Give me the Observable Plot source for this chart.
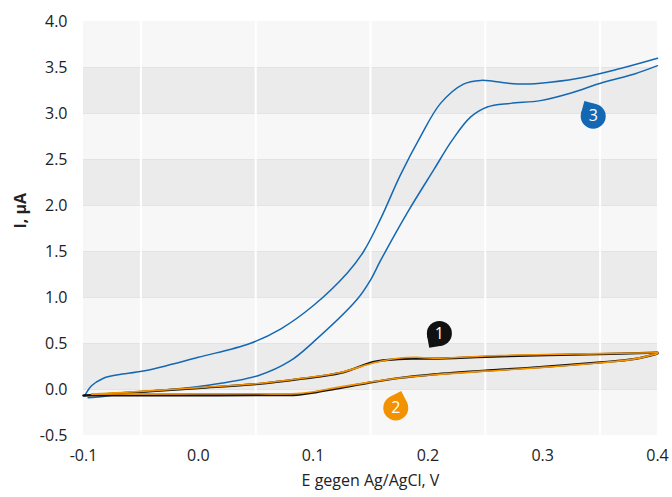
<!DOCTYPE html>
<html><head><meta charset="utf-8">
<script src="https://cdn.jsdelivr.net/npm/d3@7"></script>
<script src="https://cdn.jsdelivr.net/npm/@observablehq/plot@0.6"></script>
<style>body{margin:0;background:#fff;}</style>
</head><body><div id="chart"></div>
<script>
// ---- data ----
const xTicks = [-0.1, 0.0, 0.1, 0.2, 0.3, 0.4];
const xGrid = [-0.05, 0.05, 0.15, 0.25, 0.35];
const yTicks = [-0.5, 0.0, 0.5, 1.0, 1.5, 2.0, 2.5, 3.0, 3.5, 4.0];
const xLabel = "E gegen Ag/AgCl, V";
const yLabel = "I, µA";

const seriesNames = ["1", "2", "3"];
const seriesColors = ["#111111", "#f39200", "#1468b3"];

// curve 1 (black)
const s1UpE = [-0.1, -0.05, 0.0, 0.052, 0.089, 0.124, 0.153, 0.174, 0.19, 0.205, 0.263, 0.35, 0.4];
const s1UpI = [-0.065, -0.025, 0.015, 0.06, 0.115, 0.18, 0.30, 0.33, 0.335, 0.335, 0.36, 0.385, 0.40];
const s1LoE = [-0.1, -0.05, 0.0, 0.05, 0.086, 0.1, 0.12, 0.147, 0.175, 0.205, 0.263, 0.3, 0.35, 0.379, 0.4];
const s1LoI = [-0.065, -0.065, -0.064, -0.062, -0.058, -0.035, 0.01, 0.07, 0.125, 0.165, 0.215, 0.245, 0.295, 0.33, 0.39];

// curve 2 (orange)
const s2UpE = [-0.093, -0.05, 0.0, 0.052, 0.089, 0.124, 0.153, 0.174, 0.19, 0.205, 0.263, 0.35, 0.4];
const s2UpI = [-0.05, -0.02, 0.02, 0.065, 0.12, 0.185, 0.29, 0.34, 0.35, 0.34, 0.37, 0.39, 0.40];
const s2LoE = [-0.093, -0.05, 0.0, 0.05, 0.086, 0.1, 0.12, 0.147, 0.175, 0.205, 0.263, 0.3, 0.35, 0.379, 0.4];
const s2LoI = [-0.05, -0.048, -0.047, -0.046, -0.045, -0.025, 0.02, 0.075, 0.125, 0.16, 0.21, 0.24, 0.29, 0.33, 0.39];

// curve 3 (blue)
const s3UpE = [-0.099, -0.093, -0.083, -0.07, -0.048, 0.0, 0.045, 0.072, 0.1, 0.13, 0.144, 0.159, 0.176, 0.194, 0.211, 0.231, 0.246, 0.257, 0.278, 0.298, 0.33, 0.365, 0.4];
const s3UpI = [-0.07, 0.04, 0.12, 0.16, 0.20, 0.35, 0.50, 0.66, 0.91, 1.27, 1.50, 1.86, 2.33, 2.76, 3.11, 3.32, 3.36, 3.35, 3.32, 3.33, 3.38, 3.48, 3.60];
const s3LoE = [-0.096, -0.085, -0.074, -0.042, 0.005, 0.052, 0.080, 0.1006, 0.1384, 0.15, 0.1587, 0.182, 0.2052, 0.2212, 0.2371, 0.2517, 0.272, 0.298, 0.324, 0.353, 0.38, 0.4];
const s3LoI = [-0.09, -0.08, -0.06, -0.02, 0.04, 0.15, 0.31, 0.52, 0.98, 1.19, 1.40, 1.92, 2.39, 2.71, 2.96, 3.07, 3.11, 3.14, 3.22, 3.34, 3.43, 3.52];

// numbered markers
const markerE = [0.21, 0.172, 0.344];
const markerI = [0.61, -0.20, 2.97];
const markerTail = [215, 18, 330]; // direction of the pointer, degrees clockwise from up

// ---- build tables ----
function branch(series, part, E, I) { return E.map((e, i) => ({series, part, E: e, I: I[i]})); }
const curve1 = [...branch("1", "up", s1UpE, s1UpI), ...branch("1", "lo", s1LoE, s1LoI)];
const curve2 = [...branch("2", "up", s2UpE, s2UpI), ...branch("2", "lo", s2LoE, s2LoI)];
const curve3 = [...branch("3", "up", s3UpE, s3UpI), ...branch("3", "lo", s3LoE, s3LoI)];
const bands = yTicks.slice(0, -1).map((y, i) => ({y1: y, y2: yTicks[i + 1], dark: i % 2 === 1}));
const markers = seriesNames.map((s, i) => ({series: s, E: markerE[i], I: markerI[i], tail: markerTail[i]}));

const R = 12.5;
const markerMarks = markers.flatMap(m => {
  const t = m.tail * Math.PI / 180, off = R / Math.SQRT2;
  return [
    Plot.dot([m], {x: "E", y: "I", r: R, fill: "series"}),
    Plot.dot([m], {x: "E", y: "I", symbol: "square", r: R / Math.sqrt(Math.PI), fill: "series",
      rotate: m.tail - 45, dx: off * Math.sin(t), dy: -off * Math.cos(t)}),
    Plot.text([m], {x: "E", y: "I", text: "series", fill: "white", fontSize: 16})
  ];
});

const lineOpts = {x: "E", y: "I", z: "part", stroke: "series", curve: "catmull-rom"};

const chart = Plot.plot({
  width: 672, height: 497,
  marginTop: 21, marginBottom: 62, marginLeft: 83, marginRight: 15,
  style: {fontFamily: "'Open Sans', sans-serif", fontSize: "16px", color: "#222", background: "#fff"},
  x: {domain: [xTicks[0], xTicks[xTicks.length - 1]]},
  y: {domain: [yTicks[0], yTicks[yTicks.length - 1]]},
  color: {domain: seriesNames, range: seriesColors},
  marks: [
    Plot.rect(bands.filter(d => !d.dark), {y1: "y1", y2: "y2", fill: "#f7f7f7"}),
    Plot.rect(bands.filter(d => d.dark), {y1: "y1", y2: "y2", fill: "#ebebeb"}),
    Plot.ruleY(yTicks.slice(1, -1), {stroke: "#e3e3e3", strokeWidth: 1}),
    Plot.ruleX(xGrid, {stroke: "#ffffff", strokeWidth: 2}),
    Plot.axisX(xTicks, {tickSize: 0, tickPadding: 14, tickFormat: d => d.toFixed(1), label: null, fontSize: 16}),
    Plot.axisY(yTicks, {tickSize: 0, tickPadding: 16, tickFormat: d => d.toFixed(1), label: null, fontSize: 16}),
    Plot.text([xLabel], {frameAnchor: "bottom", dy: 50, text: d => d, fontSize: 16, fill: "#222"}),
    Plot.text([yLabel], {frameAnchor: "left", dx: -63, rotate: -90, text: d => d, fontSize: 16, fontWeight: "bold", fill: "#222"}),
    Plot.line(curve3, {...lineOpts, strokeWidth: 1.5}),
    Plot.line(curve1, {...lineOpts, strokeWidth: 2.2}),
    Plot.line(curve2, {...lineOpts, strokeWidth: 1.6}),
    ...markerMarks
  ]
});
document.getElementById("chart").append(chart);
</script>
</body></html>
